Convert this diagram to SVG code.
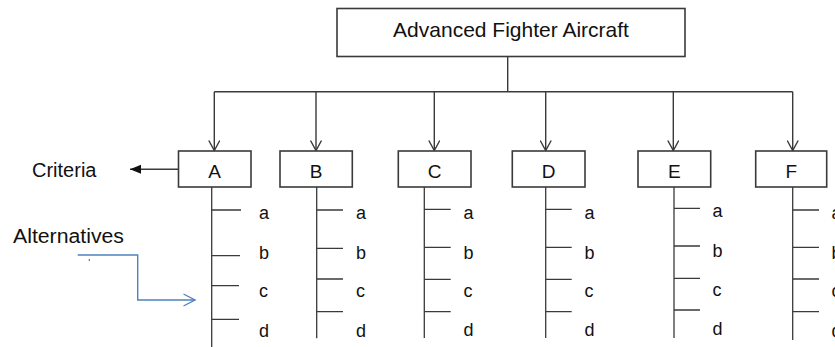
<svg xmlns="http://www.w3.org/2000/svg" width="835" height="347" viewBox="0 0 835 347">
<style>
.box{fill:#fff;stroke:#3a3a3a;stroke-width:1.6}
.ln{fill:none;stroke:#3a3a3a;stroke-width:1.4}
.tk{fill:none;stroke:#3a3a3a;stroke-width:1.3}
.t{font-family:"Liberation Sans",Arial,sans-serif;fill:#111}
.title{font-size:21px;text-anchor:middle}
.lbl{font-size:19px;text-anchor:middle}
.alt{font-size:18px}
.side{font-size:20px}
</style>
<defs>
<marker id="open" viewBox="0 0 12 12" refX="11" refY="6" markerWidth="12" markerHeight="12" markerUnits="userSpaceOnUse" orient="auto">
<path d="M1,0.5 L11,6 L1,11.5" fill="none" stroke="#3a3a3a" stroke-width="1.4"/>
</marker>
<marker id="solid" viewBox="0 0 12 10" refX="11" refY="5" markerWidth="12" markerHeight="10" markerUnits="userSpaceOnUse" orient="auto">
<path d="M0,0.5 L11,5 L0,9.5 Z" fill="#111"/>
</marker>
<marker id="blue" viewBox="0 0 14 14" refX="12.5" refY="7" markerWidth="14" markerHeight="14" markerUnits="userSpaceOnUse" orient="auto">
<path d="M1,1 L12.5,7 L1,13" fill="none" stroke="#4F81BD" stroke-width="1.4"/>
</marker>
</defs>

<g id="connectors">
<path class="ln" d="M507.7,56.7 V91.7 M214.3,91.7 H792.7"/>
<line class="ln" x1="214.3" y1="91.7" x2="214.3" y2="150.5" marker-end="url(#open)"/>
<line class="ln" x1="316" y1="91.7" x2="316" y2="150.5" marker-end="url(#open)"/>
<line class="ln" x1="434.3" y1="91.7" x2="434.3" y2="150.5" marker-end="url(#open)"/>
<line class="ln" x1="545.7" y1="91.7" x2="545.7" y2="150.5" marker-end="url(#open)"/>
<line class="ln" x1="673.3" y1="91.7" x2="673.3" y2="150.5" marker-end="url(#open)"/>
<line class="ln" x1="792.7" y1="91.7" x2="792.7" y2="150.5" marker-end="url(#open)"/>
<line class="ln" x1="178.5" y1="169.3" x2="130" y2="169.3" marker-end="url(#solid)"/>
<polyline points="77.7,255 137.7,255 137.7,300 195,300" fill="none" stroke="#4F81BD" stroke-width="1.4" marker-end="url(#blue)"/>
<circle cx="89.3" cy="260" r="0.7" fill="#222"/>
</g>

<g id="root">
<rect class="box" x="337" y="8.5" width="348" height="48"/>
<text class="t title" x="511" y="37">Advanced Fighter Aircraft</text>
</g>

<g id="criteria-label">
<text class="t side" x="32" y="176.5">Criteria</text>
</g>
<g id="alternatives-label">
<text class="t side" x="13" y="242.5" textLength="111" lengthAdjust="spacingAndGlyphs">Alternatives</text>
</g>

<g id="A">
<rect class="box" x="178.5" y="151" width="72.5" height="36"/>
<text class="t lbl" x="214.7" y="177.7">A</text>
<path class="tk" d="M211.7,187 V347 M211.7,210 H241 M211.7,255.7 H240 M211.7,285.7 H239 M211.7,319.3 H239"/>
<text class="t alt" x="259" y="219.3">a</text>
<text class="t alt" x="259" y="259.3">b</text>
<text class="t alt" x="259" y="297.3">c</text>
<text class="t alt" x="259" y="336.7">d</text>
</g>

<g id="B">
<rect class="box" x="280" y="151" width="72.3" height="36"/>
<text class="t lbl" x="316.2" y="177.7">B</text>
<path class="tk" d="M316.7,187 V338.3 M316.7,210 H343 M316.7,248.3 H343 M316.7,279 H343 M316.7,311.7 H343"/>
<text class="t alt" x="356" y="219.3">a</text>
<text class="t alt" x="356" y="259.3">b</text>
<text class="t alt" x="356" y="297.3">c</text>
<text class="t alt" x="356" y="336.7">d</text>
</g>

<g id="C">
<rect class="box" x="398.3" y="151" width="72.7" height="36"/>
<text class="t lbl" x="434.7" y="177.7">C</text>
<path class="tk" d="M424.3,187 V338 M424.3,209.3 H450.7 M424.3,247.3 H450.7 M424.3,279.3 H450.7 M424.3,311.7 H450.7"/>
<text class="t alt" x="463.5" y="218.5">a</text>
<text class="t alt" x="463.5" y="258.5">b</text>
<text class="t alt" x="463.5" y="297.3">c</text>
<text class="t alt" x="463.5" y="336.2">d</text>
</g>

<g id="D">
<rect class="box" x="512.3" y="151" width="72.7" height="36"/>
<text class="t lbl" x="548.7" y="177.7">D</text>
<path class="tk" d="M545.7,187 V338 M545.7,209.3 H571.7 M545.7,247.3 H571.7 M545.7,279.3 H571.7 M545.7,311.7 H571.7"/>
<text class="t alt" x="584.5" y="218.5">a</text>
<text class="t alt" x="584.5" y="258.5">b</text>
<text class="t alt" x="584.5" y="297.3">c</text>
<text class="t alt" x="584.5" y="336.2">d</text>
</g>

<g id="E">
<rect class="box" x="638" y="151" width="72.7" height="36"/>
<text class="t lbl" x="674.3" y="177.7">E</text>
<path class="tk" d="M674,187 V338 M674,208.3 H700 M674,246 H700 M674,278.3 H700 M674,310 H700"/>
<text class="t alt" x="712.5" y="217.3">a</text>
<text class="t alt" x="712.5" y="256.7">b</text>
<text class="t alt" x="712.5" y="296">c</text>
<text class="t alt" x="712.5" y="334.5">d</text>
</g>

<g id="F">
<rect class="box" x="755.7" y="151" width="71" height="36"/>
<text class="t lbl" x="791.2" y="177.7">F</text>
<path class="tk" d="M792.7,187 V340 M792.7,210 H819 M792.7,247.3 H819 M792.7,279 H819 M792.7,311.7 H819"/>
<text class="t alt" x="831.5" y="219.3">a</text>
<text class="t alt" x="831.5" y="259.3">b</text>
<text class="t alt" x="831.5" y="297.3">c</text>
<text class="t alt" x="831.5" y="336.7">d</text>
</g>
</svg>
